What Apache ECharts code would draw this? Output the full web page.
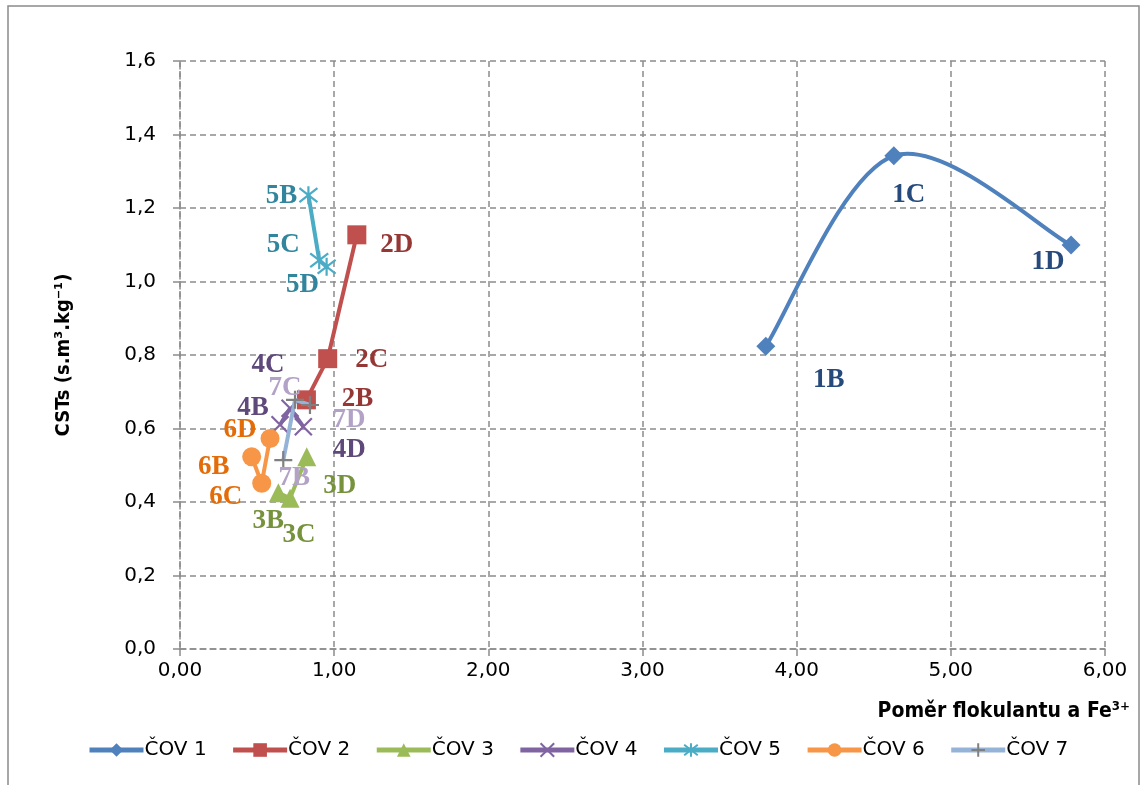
<!DOCTYPE html>
<html>
<head>
<meta charset="utf-8">
<script src="https://cdn.jsdelivr.net/npm/echarts@6/dist/echarts.min.js"></script>
<style>
  html, body { margin: 0; padding: 0; background: #ffffff; }
  #chart { width: 1143px; height: 785px; }
</style>
</head>
<body>
<div id="chart"></div>
<script>
// Series names (wastewater treatment plants)
const seriesNames = ['ČOV 1', 'ČOV 2', 'ČOV 3', 'ČOV 4', 'ČOV 5', 'ČOV 6', 'ČOV 7'];

// Ratio of flocculant to Fe3+ (x) and CST (y) per plant
const cov1X = [3.80, 4.63, 5.78];
const cov1Y = [0.824, 1.342, 1.099];
const cov2X = [0.82, 0.958, 1.147];
const cov2Y = [0.678, 0.790, 1.127];
const cov3X = [0.638, 0.714, 0.822];
const cov3Y = [0.425, 0.410, 0.523];
const cov4X = [0.649, 0.714, 0.800];
const cov4Y = [0.610, 0.655, 0.605];
const cov5X = [0.833, 0.903, 0.951];
const cov5Y = [1.235, 1.058, 1.040];
const cov6X = [0.465, 0.530, 0.584];
const cov6Y = [0.523, 0.451, 0.573];
const cov7X = [0.670, 0.746, 0.843];
const cov7Y = [0.514, 0.678, 0.664];

// Point labels
const cov1Labels = ['1B', '1C', '1D'];
const cov2Labels = ['2B', '2C', '2D'];
const cov3Labels = ['3B', '3C', '3D'];
const cov4Labels = ['4B', '4C', '4D'];
const cov5Labels = ['5B', '5C', '5D'];
const cov6Labels = ['6B', '6C', '6D'];
const cov7Labels = ['7B', '7C', '7D'];

// Axis ticks
const xTicks = [0, 1, 2, 3, 4, 5, 6];
const yTicks = [0, 0.2, 0.4, 0.6, 0.8, 1.0, 1.2, 1.4, 1.6];

// ---- styling / layout ----
const lineColors = ['#4F81BD', '#C0504D', '#9BBB59', '#8064A2', '#4BACC6', '#F79646', '#95B3D7'];
const markerColors = ['#4F81BD', '#C0504D', '#9BBB59', '#8064A2', '#4BACC6', '#F79646', '#808080'];
const labelColors = ['#264A7C', '#953735', '#76923C', '#5F497A', '#31859C', '#E36C09', '#B3A2C7'];
const symbols = [
  'diamond', 'rect', 'triangle',
  'path://M-1,-1L1,1M-1,1L1,-1',
  'path://M-1,-1L1,1M-1,1L1,-1M0,-1.3L0,1.3',
  'circle',
  'path://M0,-1L0,1M-1,0L1,0'
];
const symbolSizes = [19, 19, 19, 17, 18, 19, 18];
const strokeSymbol = [false, false, false, true, true, false, true];
// ČOV 1 is drawn as a smoothed curve, the others as straight segments
const smoothed = [true, false, false, false, false, false, false];

// label offsets in pixels from each point
const labelOffsets = [
  [[63, 34], [15, 39], [-23, 17]],
  [[51, -1], [44, 1], [40, 10]],
  [[-10, 28], [9, 37], [33, 29]],
  [[-27, -17], [-22, -43], [46, 23]],
  [[-27, 1], [-36, -15], [-24, 18]],
  [[-38, 10], [-36, 14], [-30, -8]],
  [[11, 18], [-10, -12], [39, 15]]
];

const xs = [cov1X, cov2X, cov3X, cov4X, cov5X, cov6X, cov7X];
const ys = [cov1Y, cov2Y, cov3Y, cov4Y, cov5Y, cov6Y, cov7Y];
const labels = [cov1Labels, cov2Labels, cov3Labels, cov4Labels, cov5Labels, cov6Labels, cov7Labels];

const gridColor = '#8C8C8C';
const tickFont = 'DejaVu Sans';
const lineWidth = 4;

const series = [];
seriesNames.forEach((name, i) => {
  series.push({
    name: name,
    type: 'line',
    symbol: symbols[i],
    symbolSize: symbolSizes[i],
    showAllSymbol: true,
    // the smoothed series gets its curve from the custom series below
    lineStyle: { color: lineColors[i], width: lineWidth, opacity: smoothed[i] ? 0 : 1 },
    itemStyle: strokeSymbol[i]
      ? { color: markerColors[i], borderColor: markerColors[i], borderWidth: 2.2 }
      : { color: markerColors[i] },
    emphasis: { disabled: true },
    z: 4 + i,
    data: xs[i].map((x, k) => ({
      value: [x, ys[i][k]],
      label: {
        show: true,
        formatter: labels[i][k],
        position: 'inside',
        offset: labelOffsets[i][k],
        color: labelColors[i],
        fontFamily: 'Liberation Serif',
        fontWeight: 'bold',
        fontSize: 27
      }
    }))
  });

  if (smoothed[i]) {
    const px = xs[i], py = ys[i];
    series.push({
      name: name + ' curve',
      type: 'custom',
      z: 3,
      silent: true,
      data: px.map((x, k) => [x, py[k]]),
      renderItem: function (params, api) {
        if (params.dataIndex !== 0) return null;
        const pts = px.map((x, k) => api.coord([x, py[k]]));
        const n = pts.length;
        // cardinal spline through the points, converted to cubic Bézier segments
        let d = 'M' + pts[0][0] + ',' + pts[0][1];
        for (let k = 0; k < n - 1; k++) {
          const p0 = pts[Math.max(k - 1, 0)];
          const p1 = pts[k];
          const p2 = pts[k + 1];
          const p3 = pts[Math.min(k + 2, n - 1)];
          const c1 = [p1[0] + (p2[0] - p0[0]) / 6, p1[1] + (p2[1] - p0[1]) / 6];
          const c2 = [p2[0] - (p3[0] - p1[0]) / 6, p2[1] - (p3[1] - p1[1]) / 6];
          d += ' C' + c1[0] + ',' + c1[1] + ' ' + c2[0] + ',' + c2[1] + ' ' + p2[0] + ',' + p2[1];
        }
        return {
          type: 'path',
          shape: { pathData: d },
          style: { fill: 'none', stroke: lineColors[i], lineWidth: lineWidth, lineCap: 'round', lineJoin: 'round' }
        };
      }
    });
  }
});

const chart = echarts.init(document.getElementById('chart'), null, { renderer: 'canvas' });

chart.setOption({
  animation: false,
  backgroundColor: '#ffffff',
  grid: { left: 180, right: 38, top: 61, bottom: 136 },
  xAxis: {
    type: 'value',
    min: xTicks[0],
    max: xTicks[xTicks.length - 1],
    interval: 1,
    axisLine: { show: true, lineStyle: { color: gridColor, width: 1.5, type: [6, 4] } },
    axisTick: { show: true, length: 7, lineStyle: { color: gridColor, width: 1.5 } },
    axisLabel: {
      margin: 12,
      fontFamily: tickFont,
      fontSize: 20,
      color: '#000',
      formatter: v => v.toFixed(2).replace('.', ',')
    },
    splitLine: { show: true, lineStyle: { color: gridColor, width: 1.5, type: [6, 4] } }
  },
  yAxis: {
    type: 'value',
    min: yTicks[0],
    max: yTicks[yTicks.length - 1],
    interval: 0.2,
    name: 'CSTs (s.m³.kg⁻¹)',
    nameLocation: 'middle',
    nameRotate: 90,
    nameGap: 106,
    nameTextStyle: { fontFamily: 'DejaVu Sans Condensed', fontWeight: 'bold', fontSize: 20, color: '#000' },
    axisLine: { show: true, lineStyle: { color: gridColor, width: 1.5, type: [6, 4] } },
    axisTick: { show: true, length: 7, lineStyle: { color: gridColor, width: 1.5 } },
    axisLabel: {
      margin: 24,
      fontFamily: tickFont,
      fontSize: 20,
      color: '#000',
      formatter: v => v.toFixed(1).replace('.', ',')
    },
    splitLine: { show: true, lineStyle: { color: gridColor, width: 1.5, type: [6, 4] } }
  },
  legend: {
    left: 82,
    top: 735,
    itemWidth: 54,
    itemHeight: 17,
    itemGap: 24,
    lineStyle: { width: 5, opacity: 1 },
    textStyle: { fontFamily: tickFont, fontSize: 20, color: '#000', padding: [0, 0, 0, -4] },
    data: seriesNames
  },
  graphic: [
    {
      type: 'rect',
      shape: { x: 8, y: 6, width: 1131, height: 800 },
      style: { fill: 'none', stroke: '#8A8A8A', lineWidth: 1.5 },
      silent: true,
      z: -1
    },
    {
      type: 'text',
      right: 13,
      top: 701,
      style: {
        text: 'Poměr flokulantu a Fe³⁺',
        font: 'bold 21px "DejaVu Sans Condensed"',
        fill: '#000'
      }
    }
  ],
  series: series
});
</script>
</body>
</html>
